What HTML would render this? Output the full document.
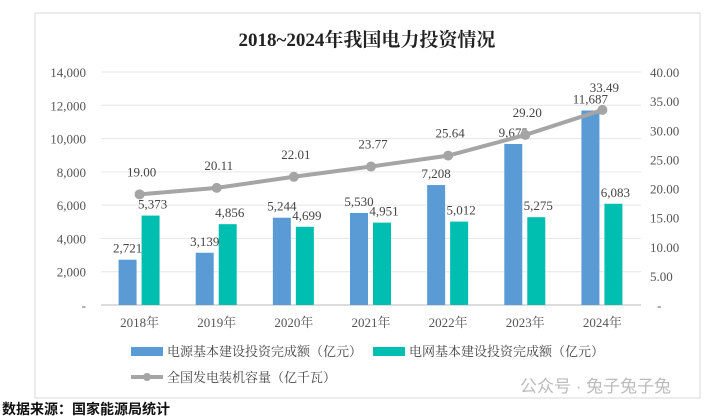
<!DOCTYPE html>
<html><head><meta charset="utf-8"><style>
body{margin:0;background:#fff;width:720px;height:420px;overflow:hidden;font-family:"Liberation Serif","Noto Serif CJK SC",serif}
</style></head><body>
<svg width="720" height="420" style="position:absolute;left:0;top:0">
<rect x="35" y="13" width="665" height="385" fill="#fff" stroke="#d9d9d9"/>
<text x="367" y="46" text-anchor="middle" font-size="19" font-weight="bold" fill="#222">2018~2024年我国电力投资情况</text>
<g id="g"></g>
<g>
<rect x="131" y="347" width="32" height="9" fill="#5b9bd5"/>
<text x="167" y="356" font-size="13" fill="#444">电源基本建设投资完成额（亿元）</text>
<rect x="373" y="347" width="32" height="9" fill="#00bfb0"/>
<text x="409" y="356" font-size="13" fill="#444">电网基本建设投资完成额（亿元）</text>
<line x1="131" y1="377" x2="163" y2="377" stroke="#a5a5a5" stroke-width="4"/>
<circle cx="147" cy="377" r="4" fill="#a5a5a5"/>
<text x="167" y="382" font-size="13" fill="#444">全国发电装机容量（亿千瓦）</text>
</g>
<text x="520" y="392" font-size="17" fill="#bbb" font-family="Liberation Sans,Noto Sans CJK SC,sans-serif">公众号 · 兔子兔子兔</text>
<text x="2" y="414" font-size="14" font-weight="bold" fill="#111" font-family="Liberation Sans,Noto Sans CJK SC,sans-serif">数据来源：国家能源局统计</text>
</svg>
<script>
const categories=["2018年","2019年","2020年","2021年","2022年","2023年","2024年"];
const sourceInvest=[2721,3139,5244,5530,7208,9675,11687];
const gridInvest=[5373,4856,4699,4951,5012,5275,6083];
const capacity=[19.00,20.11,22.01,23.77,25.64,29.20,33.49];
const leftTicks=[0,2000,4000,6000,8000,10000,12000,14000];
const rightTicks=[0,5,10,15,20,25,30,35,40];
const NS="http://www.w3.org/2000/svg",g=document.getElementById('g');
const X0=101,X1=641,Y0=305,Y1=72;
const yL=v=>Y0-(v/14000)*(Y0-Y1);
const yR=v=>Y0-(v/40)*(Y0-Y1);
const bw=(X1-X0)/categories.length;
const xc=i=>X0+bw*(i+0.5);
function mk(t,a,txt){const e=document.createElementNS(NS,t);for(const k in a)e.setAttribute(k,a[k]);if(txt!==undefined)e.textContent=txt;g.appendChild(e);return e;}
const fmt=v=>v.toLocaleString('en-US');
leftTicks.forEach(v=>{const l=mk('line',{x1:X0,x2:X1,y1:yL(v),y2:yL(v),stroke:v?'#e6e6e6':'#d0d0d0','stroke-width':v?1:1.5});


const t=mk('text',{x:86,y:yL(v)+5,'text-anchor':'end','font-size':13,fill:'#555'},v?fmt(v):'-');

});
rightTicks.forEach(v=>{const t=mk('text',{x:v?650:657,y:yR(v)+5,'font-size':13,fill:'#555'},v?v.toFixed(2):'-');

});
categories.forEach((c,i)=>{
const t=mk('text',{x:xc(i),y:327,'text-anchor':'middle','font-size':13,fill:'#555'},c);


const b1=mk('rect',{x:xc(i)-21,y:yL(sourceInvest[i]),width:18,height:Y0-yL(sourceInvest[i]),fill:'#5b9bd5'});


const b2=mk('rect',{x:xc(i)+2,y:yL(gridInvest[i]),width:18,height:Y0-yL(gridInvest[i]),fill:'#00bfb0'});


const l1=mk('text',{x:xc(i)-12,y:yL(sourceInvest[i])-7,'text-anchor':'middle','font-size':13,fill:'#444'},fmt(sourceInvest[i]));


const l2=mk('text',{x:xc(i)+13,y:yL(gridInvest[i])-7,'text-anchor':'middle','font-size':13,fill:'#444'},fmt(gridInvest[i]));


});
const ln=mk('polyline',{points:capacity.map((v,i)=>xc(i)+','+yR(v)).join(' '),fill:'none',stroke:'#a5a5a5','stroke-width':4});


capacity.forEach((v,i)=>{const c=mk('circle',{cx:xc(i),cy:yR(v),r:5,fill:'#a5a5a5'});


const t=mk('text',{x:xc(i)+2,y:yR(v)-18,'text-anchor':'middle','font-size':13,fill:'#444'},v.toFixed(2));

});
</script>
</body></html>
